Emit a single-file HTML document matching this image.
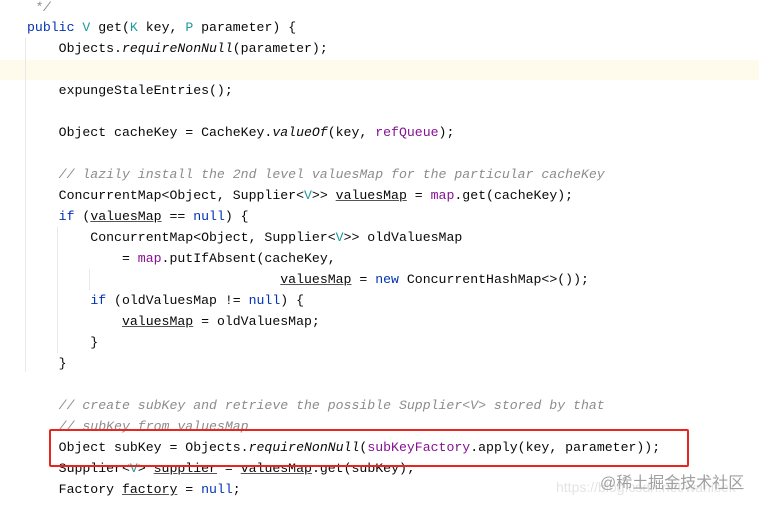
<!DOCTYPE html>
<html><head><meta charset="utf-8"><style>
html,body{margin:0;padding:0;background:#fff;width:759px;height:505px;overflow:hidden;position:relative}
.l{position:absolute;left:27px;height:21px;line-height:21px;white-space:pre;font-family:"Liberation Mono",monospace;font-size:13.2px;color:#080808}
.k{color:#0033b3}.t{color:#20999d}.c{color:#8c8c8c;font-style:italic}.f{color:#871094}.i{font-style:italic}
.u{text-decoration:underline;text-decoration-color:#555}
.g{position:absolute;width:1px;background:#e8e8e8}
</style></head><body>
<div style="position:absolute;left:0;top:60px;width:759px;height:20px;background:#fefbed"></div>
<div class="g" style="left:25px;top:38px;height:334px"></div>
<div class="g" style="left:57px;top:227px;height:126px"></div>
<div class="g" style="left:89px;top:269px;height:21px"></div>
<div class="l" style="top:-3px"><span class="c"> */</span></div>
<div class="l" style="top:17px"><span class="k">public</span> <span class="t">V</span> get(<span class="t">K</span> key, <span class="t">P</span> parameter) {</div>
<div class="l" style="top:38px">    Objects.<span class="i">requireNonNull</span>(parameter);</div>
<div class="l" style="top:80px">    expungeStaleEntries();</div>
<div class="l" style="top:122px">    Object cacheKey = CacheKey.<span class="i">valueOf</span>(key, <span class="f">refQueue</span>);</div>
<div class="l" style="top:164px">    <span class="c">// lazily install the 2nd level valuesMap for the particular cacheKey</span></div>
<div class="l" style="top:185px">    ConcurrentMap&lt;Object, Supplier&lt;<span class="t">V</span>&gt;&gt; <span class="u">valuesMap</span> = <span class="f">map</span>.get(cacheKey);</div>
<div class="l" style="top:206px">    <span class="k">if</span> (<span class="u">valuesMap</span> == <span class="k">null</span>) {</div>
<div class="l" style="top:227px">        ConcurrentMap&lt;Object, Supplier&lt;<span class="t">V</span>&gt;&gt; oldValuesMap</div>
<div class="l" style="top:248px">            = <span class="f">map</span>.putIfAbsent(cacheKey,</div>
<div class="l" style="top:269px">                                <span class="u">valuesMap</span> = <span class="k">new</span> ConcurrentHashMap&lt;&gt;());</div>
<div class="l" style="top:290px">        <span class="k">if</span> (oldValuesMap != <span class="k">null</span>) {</div>
<div class="l" style="top:311px">            <span class="u">valuesMap</span> = oldValuesMap;</div>
<div class="l" style="top:332px">        }</div>
<div class="l" style="top:353px">    }</div>
<div class="l" style="top:395px">    <span class="c">// create subKey and retrieve the possible Supplier&lt;V&gt; stored by that</span></div>
<div class="l" style="top:416px">    <span class="c">// subKey from valuesMap</span></div>
<div class="l" style="top:437px">    Object subKey = Objects.<span class="i">requireNonNull</span>(<span class="f">subKeyFactory</span>.apply(key, parameter));</div>
<div class="l" style="top:458px">    Supplier&lt;<span class="t">V</span>&gt; <span class="u">supplier</span> = <span class="u">valuesMap</span>.get(subKey);</div>
<div class="l" style="top:479px">    Factory <span class="u">factory</span> = <span class="k">null</span>;</div>
<div style="position:absolute;left:49px;top:429px;width:636px;height:34px;border:2.5px solid #e8261e;border-radius:2px"></div>
<div style="position:absolute;left:556px;top:479px;font:14px 'Liberation Sans',sans-serif;color:#e4e4e4;white-space:nowrap">https://blog.csdn.net/wanisek</div>
<div style="position:absolute;left:600px;top:469px;font:16px 'Liberation Sans','Noto Sans CJK SC',sans-serif;color:#a0a0a0;white-space:nowrap">@稀土掘金技术社区</div>
</body></html>
